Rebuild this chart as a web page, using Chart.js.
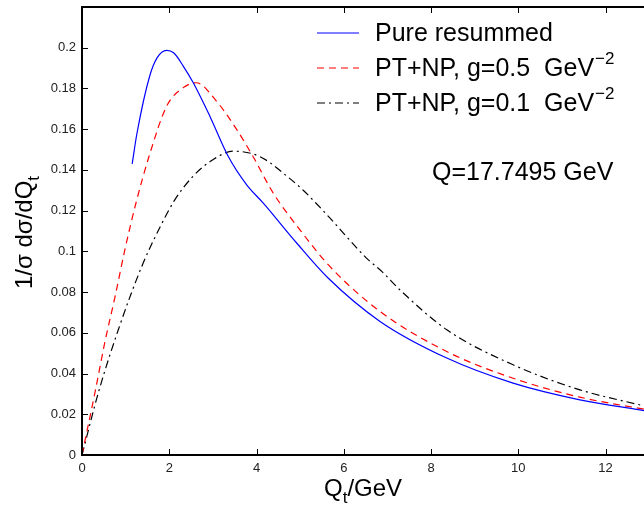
<!DOCTYPE html>
<html>
<head>
<meta charset="utf-8">
<script src="https://cdn.jsdelivr.net/npm/chart.js@4.4.1/dist/chart.umd.min.js"></script>
<style>
  html, body { margin: 0; padding: 0; background: #fff; }
  #wrap { width: 644px; height: 506px; }
</style>
</head>
<body>
<div id="wrap"><canvas id="qt-chart"></canvas></div>
<script>
// Q_t values (GeV) and 1/sigma dsigma/dQt
const pureQt  = [1.15, 1.26, 1.55, 1.72, 1.94, 2.1, 2.32, 2.55, 2.93, 3.35, 3.77, 4.15, 4.92, 5.64, 6.83, 8.36, 9.88, 11.41, 12.88];
const pureVal = [0.143, 0.158, 0.186, 0.195, 0.1987, 0.1975, 0.191, 0.1828, 0.1664, 0.1467, 0.1328, 0.1238, 0.1041, 0.0869, 0.0656, 0.0476, 0.0353, 0.0271, 0.0218];

const g05Qt  = [0, 0.3, 0.53, 0.76, 0.99, 1.24, 1.55, 1.94, 2.32, 2.62, 3.08, 3.54, 3.92, 4.38, 4.99, 5.68, 6.83, 8.36, 9.88, 11.41, 12.88];
const g05Val = [0, 0.031, 0.056, 0.078, 0.1015, 0.124, 0.1476, 0.1713, 0.1804, 0.1828, 0.1738, 0.160, 0.1466, 0.1287, 0.1107, 0.0926, 0.0705, 0.0508, 0.0377, 0.0284, 0.0225];

const g01Qt  = [0, 0.38, 0.84, 1.37, 1.79, 2.13, 2.55, 3.0, 3.46, 4.08, 4.72, 5.07, 5.37, 5.68, 5.99, 6.52, 6.87, 7.28, 8.36, 9.88, 11.41, 12.88];
const g01Val = [0, 0.031, 0.062, 0.0926, 0.112, 0.1254, 0.137, 0.145, 0.1492, 0.1465, 0.1365, 0.1300, 0.1235, 0.1164, 0.109, 0.0967, 0.0902, 0.0812, 0.0615, 0.0443, 0.032, 0.0241];

const xTicks = [0, 2, 4, 6, 8, 10, 12];
const yTicks = [0, 0.02, 0.04, 0.06, 0.08, 0.1, 0.12, 0.14, 0.16, 0.18, 0.2];

const seriesNames = ["Pure resummed", "PT+NP, g=0.5  GeV", "PT+NP, g=0.1  GeV"];
const seriesSup = ["", "\u22122", "\u22122"];
const note = "Q=17.7495 GeV";

const FONT = '"Liberation Sans", Arial, Helvetica, sans-serif';

function pts(xs, ys) {
    return xs.map((x, i) => ({ x: x, y: ys[i] }));
}

const colors = ["#0000ff", "#ff0000", "#000000"];
const dashes = [[], [7, 5], [8, 4, 2, 4]];

// box, inward ticks, axis titles, legend and note
const decor = {
    id: 'decor',
    afterDraw(chart) {
        const ctx = chart.ctx;
        const a = chart.chartArea;
        const xs = chart.scales.x, ys = chart.scales.y;
        ctx.save();
        ctx.strokeStyle = '#000';
        ctx.lineWidth = 2;
        ctx.beginPath();
        ctx.moveTo(a.left - 1, a.top);
        ctx.lineTo(a.right, a.top);
        ctx.stroke();
        ctx.lineWidth = 1;
        xTicks.forEach(v => {
            const px = Math.round(xs.getPixelForValue(v)) + 0.5;
            ctx.beginPath();
            ctx.moveTo(px, a.bottom); ctx.lineTo(px, a.bottom - 6);
            ctx.moveTo(px, a.top); ctx.lineTo(px, a.top + 6);
            ctx.stroke();
        });
        yTicks.forEach(v => {
            const py = Math.round(ys.getPixelForValue(v)) + 0.5;
            ctx.beginPath();
            ctx.moveTo(a.left, py); ctx.lineTo(a.left + 6, py);
            ctx.stroke();
        });

        ctx.fillStyle = '#000';
        ctx.textBaseline = 'alphabetic';
        ctx.textAlign = 'left';

        // x title Q_t/GeV
        ctx.font = '24px ' + FONT;
        let x0 = 324, yb = 496;
        ctx.fillText('Q', x0, yb);
        let w = ctx.measureText('Q').width;
        ctx.font = '17px ' + FONT;
        ctx.fillText('t', x0 + w, yb + 7);
        let wt = ctx.measureText('t').width;
        ctx.font = '24px ' + FONT;
        ctx.fillText('/GeV', x0 + w + wt, yb);

        // y title 1/σ dσ/dQ_t
        ctx.save();
        ctx.translate(32, 289);
        ctx.rotate(-Math.PI / 2);
        ctx.font = '24px ' + FONT;
        const main = '1/\u03c3 d\u03c3/dQ';
        ctx.fillText(main, 0, 0);
        w = ctx.measureText(main).width;
        ctx.font = '17px ' + FONT;
        ctx.fillText('t', w, 7);
        ctx.restore();

        // legend
        const rows = [41, 76, 111];
        rows.forEach((yb2, i) => {
            ctx.save();
            ctx.strokeStyle = colors[i];
            ctx.lineWidth = 1.2;
            ctx.setLineDash(dashes[i]);
            ctx.beginPath();
            ctx.moveTo(317, yb2 - 8);
            ctx.lineTo(359, yb2 - 8);
            ctx.stroke();
            ctx.restore();
            ctx.font = '25px ' + FONT;
            ctx.fillText(seriesNames[i], 375, yb2);
            if (seriesSup[i]) {
                const tw = ctx.measureText(seriesNames[i]).width;
                ctx.font = '17px ' + FONT;
                ctx.fillText(seriesSup[i], 375 + tw + 1, yb2 - 12);
            }
        });

        ctx.font = '25px ' + FONT;
        ctx.fillText(note, 432, 180);
        ctx.restore();
    }
};

new Chart(document.getElementById("qt-chart"), {
    type: 'line',
    data: {
        datasets: [
            {
                label: seriesNames[0],
                data: pts(pureQt, pureVal),
                borderColor: colors[0],
                borderWidth: 1.2,
                borderDash: dashes[0]
            },
            {
                label: seriesNames[1],
                data: pts(g05Qt, g05Val),
                borderColor: colors[1],
                borderWidth: 1.2,
                borderDash: dashes[1]
            },
            {
                label: seriesNames[2],
                data: pts(g01Qt, g01Val),
                borderColor: colors[2],
                borderWidth: 1.2,
                borderDash: dashes[2]
            }
        ]
    },
    options: {
        responsive: true,
        maintainAspectRatio: false,
        animation: false,
        devicePixelRatio: 1,
        elements: {
            point: { radius: 0 },
            line: { cubicInterpolationMode: 'monotone', fill: false }
        },
        layout: { padding: { top: 7, right: 0, left: 0, bottom: 0 } },
        plugins: {
            legend: { display: false },
            tooltip: { enabled: false },
            title: { display: false }
        },
        scales: {
            x: {
                type: 'linear',
                min: 0,
                max: 12.88,
                afterBuildTicks: s => { s.ticks = xTicks.map(v => ({ value: v })); },
                afterFit: s => { s.height = 51; s.paddingLeft = 0; s.paddingRight = 0; },
                grid: { display: false, drawTicks: false },
                border: { display: true, color: '#000', width: 2 },
                ticks: {
                    padding: 6,
                    color: '#222',
                    font: { family: FONT, size: 13 },
                    maxRotation: 0
                }
            },
            y: {
                type: 'linear',
                min: 0,
                max: 0.22,
                afterBuildTicks: s => { s.ticks = yTicks.map(v => ({ value: v })); },
                afterFit: s => { s.width = 82; s.paddingTop = 0; s.paddingBottom = 0; },
                grid: { display: false, drawTicks: false },
                border: { display: true, color: '#000', width: 2 },
                ticks: {
                    padding: 6,
                    color: '#222',
                    font: { family: FONT, size: 13 },
                    callback: v => String(+v.toFixed(2))
                }
            }
        }
    },
    plugins: [decor]
});
</script>
</body>
</html>
